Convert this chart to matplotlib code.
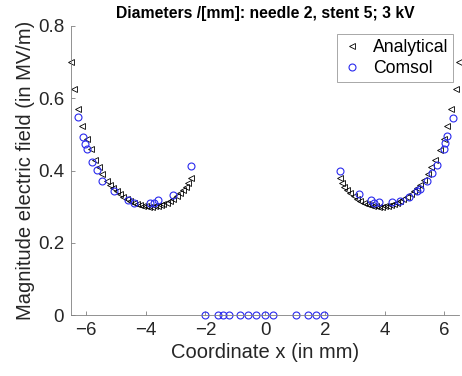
import matplotlib
matplotlib.use("Agg")
import matplotlib.pyplot as pyplot

# analytical solution, left and right branch (x in mm, E in MV/m)
ana_left_x = [-6.49, -6.41, -6.26, -6.15, -5.98, -5.85, -5.70, -5.56, -5.45, -5.31,
              -5.20, -5.10, -4.98, -4.87, -4.75, -4.63, -4.52, -4.41, -4.30, -4.20,
              -4.10, -4.00, -3.90, -3.80, -3.70, -3.60, -3.50, -3.41, -3.30, -3.19,
              -3.08, -2.96, -2.85, -2.75, -2.65, -2.57, -2.49]
ana_left_y = [0.699, 0.626, 0.570, 0.524, 0.487, 0.459, 0.429, 0.409, 0.390, 0.372,
              0.360, 0.352, 0.343, 0.335, 0.327, 0.320, 0.315, 0.311, 0.307, 0.304,
              0.302, 0.301, 0.300, 0.300, 0.301, 0.302, 0.304, 0.307, 0.311, 0.316,
              0.322, 0.329, 0.337, 0.345, 0.355, 0.365, 0.378]
ana_right_x = [2.49, 2.57, 2.65, 2.75, 2.85, 2.96, 3.08, 3.19, 3.30, 3.41,
               3.50, 3.60, 3.70, 3.80, 3.90, 4.00, 4.10, 4.20, 4.30, 4.41,
               4.52, 4.63, 4.75, 4.87, 4.98, 5.10, 5.20, 5.31, 5.45, 5.56,
               5.70, 5.85, 5.98, 6.10, 6.24, 6.38, 6.50]
ana_right_y = [0.378, 0.365, 0.355, 0.345, 0.337, 0.329, 0.322, 0.316, 0.311, 0.307,
               0.304, 0.302, 0.301, 0.300, 0.300, 0.301, 0.302, 0.304, 0.307, 0.311,
               0.315, 0.320, 0.327, 0.335, 0.343, 0.352, 0.360, 0.374, 0.390, 0.409,
               0.429, 0.457, 0.487, 0.524, 0.570, 0.626, 0.699]

# comsol simulation
com_x = [-6.26, -6.10, -6.04, -5.96, -5.80, -5.65, -5.45, -5.07, -4.60, -4.40,
         -3.86, -3.71, -3.59, -3.10, -2.48,
         -2.01, -1.58, -1.40, -1.21, -0.86, -0.57, -0.31, 0.00, 0.25,
         1.03, 1.45, 1.70, 1.96,
         2.51, 3.13, 3.55, 3.66, 3.82, 4.25, 4.51, 4.83, 5.09, 5.18,
         5.43, 5.58, 5.77, 5.98, 6.04, 6.10, 6.30]
com_y = [0.547, 0.492, 0.474, 0.460, 0.424, 0.402, 0.372, 0.342, 0.319, 0.311,
         0.311, 0.309, 0.319, 0.331, 0.413,
         0, 0, 0, 0, 0, 0, 0, 0, 0,
         0, 0, 0, 0,
         0.400, 0.335, 0.319, 0.311, 0.312, 0.312, 0.317, 0.328, 0.342, 0.349,
         0.372, 0.392, 0.414, 0.459, 0.477, 0.496, 0.545]

x_ticks = [-6, -4, -2, 0, 2, 4, 6]
y_ticks = [0, 0.2, 0.4, 0.6, 0.8]

pyplot.rcParams["font.family"] = ["Liberation Sans", "DejaVu Sans"]

fig = pyplot.figure(figsize=(4.62, 3.76), dpi=100)
ax = fig.add_axes([0.154, 0.162, 0.840, 0.769])

ax.plot(ana_left_x + ana_right_x, ana_left_y + ana_right_y, linestyle="none",
        marker="<", markersize=5, markerfacecolor="none", markeredgecolor="black",
        markeredgewidth=0.6, label="Analytical", clip_on=False)
ax.plot(com_x, com_y, linestyle="none", marker="o", markersize=5,
        markerfacecolor="none", markeredgecolor="#2a2aee", markeredgewidth=0.8,
        label="Comsol", clip_on=False)

ax.set_xlim(-6.5, 6.5)
ax.set_ylim(0, 0.8)
ax.set_xticks(x_ticks)
ax.set_yticks(y_ticks)
ax.set_yticklabels(["0", "0.2", "0.4", "0.6", "0.8"])

for side in ["top", "right"]:
    ax.spines[side].set_visible(False)
for side in ["left", "bottom"]:
    ax.spines[side].set_color("#808080")
    ax.spines[side].set_linewidth(0.6)
ax.tick_params(direction="in", length=3, width=0.6, color="#808080",
               labelsize=13.5, labelcolor="#262626", pad=5)

ax.set_xlabel("Coordinate x (in mm)", fontsize=14.5, color="#262626", labelpad=3)
ax.set_ylabel("Magnitude electric field (in MV/m)", fontsize=14.5, color="#262626", labelpad=2)
ax.set_title("Diameters /[mm]: needle 2, stent 5; 3 kV", fontsize=11.3,
             fontweight="bold", pad=6)

leg = ax.legend(loc="upper right", fontsize=12.7, frameon=True, fancybox=False,
                borderpad=0.3, handletextpad=0.6, handlelength=1.1,
                labelspacing=0.2, borderaxespad=0.0, bbox_to_anchor=(0.985, 0.972))
leg.get_frame().set_edgecolor("#808080")
leg.get_frame().set_linewidth(0.6)

fig.savefig("out.png", dpi=100)
